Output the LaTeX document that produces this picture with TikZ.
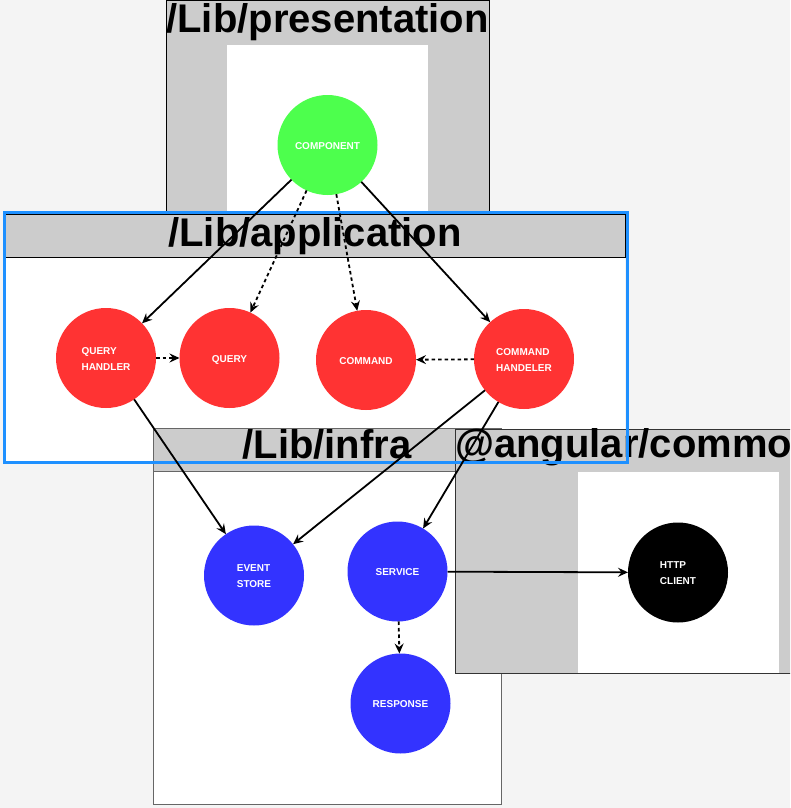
\documentclass[tikz,border=0pt]{standalone}
\usepackage{fontspec}
\setmainfont{Liberation Sans}
\usetikzlibrary{arrows.meta}
\definecolor{bg}{HTML}{F4F4F4}
\definecolor{lanegray}{HTML}{CCCCCC}
\definecolor{cgreen}{HTML}{4DFF4D}
\definecolor{cred}{HTML}{FF3333}
\definecolor{cblue}{HTML}{3333FF}
\definecolor{selblue}{HTML}{1E90FF}
\definecolor{infraline}{HTML}{666666}
\newcommand\nodelbl[1]{\raisebox{-1pt}[\height][\depth]{\begin{tabular}{@{}l@{}}#1\end{tabular}}}
\begin{document}
\begin{tikzpicture}[x=1pt,y=-1pt,
  circ/.style={circle, minimum size=100pt, inner sep=0pt, outer sep=0pt, text=white,
    font=\fontsize{10}{16}\selectfont\bfseries},
  lanetitle/.style={font=\fontsize{40}{48}\selectfont\bfseries, inner sep=0pt, anchor=base},
  conn/.style={line width=1.8pt, -{Stealth[length=10pt,width=9pt,inset=3.5pt]}},
  dconn/.style={conn, dash pattern=on 3.5pt off 3pt},
]
\clip (0,0) rectangle (790,808);
\fill[bg] (0,0) rectangle (790,808);

% presentation lane
\filldraw[fill=lanegray, draw=black, line width=1pt] (166,1) rectangle (489,216);
\fill[white] (227,45) rectangle (428,216);
\node[lanetitle] (tpres) at (327.5,33) {/Lib/presentation};

% application lane
\fill[white] (5,214) rectangle (625,462);
\filldraw[fill=lanegray, draw=black, line width=1pt] (5,214) rectangle (625,257);
\node[lanetitle] (tapp) at (315,246) {/Lib/application};

% infra lane
\filldraw[fill=white, draw=infraline, line width=1pt] (153,428) rectangle (501,804);
\filldraw[fill=lanegray, draw=infraline, line width=1pt] (153,428) rectangle (501,471);
\node[lanetitle] (tinfra) at (327,458) {/Lib/infra};

% angular lane
\filldraw[fill=lanegray, draw=black!80, line width=1pt] (455,429) rectangle (900,673);
\fill[white] (578,472) rectangle (779,673);
\node[lanetitle, anchor=base west] (tang) at (455,457) {@angular/common};

% selection frame
\draw[selblue, line width=3pt] (4,212.5) rectangle (627,462.5);

% nodes
\node[circ, fill=cgreen] (comp) at (327.5,145) {\nodelbl{COMPONENT}};
\node[circ, fill=cred] (qh) at (106,358) {\nodelbl{QUERY\\HANDLER}};
\node[circ, fill=cred] (q) at (229.5,358) {\nodelbl{QUERY}};
\node[circ, fill=cred] (cmd) at (366,360) {\nodelbl{COMMAND}};
\node[circ, fill=cred] (ch) at (524,359) {\nodelbl{COMMAND\\HANDELER}};
\node[circ, fill=cblue] (es) at (254,575.5) {\nodelbl{EVENT\\STORE}};
\node[circ, fill=cblue] (svc) at (397.5,571.5) {\nodelbl{SERVICE}};
\node[circ, fill=cblue] (resp) at (400.5,703.5) {\nodelbl{RESPONSE}};
\node[circ, fill=black] (http) at (678,572.5) {\nodelbl{HTTP\\CLIENT}};

% connectors
\draw[conn] (comp) -- (qh);
\draw[dconn] (comp) -- (q);
\draw[dconn] (comp) -- (cmd);
\draw[conn] (comp) -- (ch);
\draw[dconn] (qh) -- (q);
\draw[dconn] (ch) -- (cmd);
\draw[conn] (qh) -- (es);
\draw[conn] (ch) -- (es);
\draw[conn] (ch) -- (svc);
\draw[conn] (svc) -- (http);
\draw[dconn] (svc) -- (resp);
\end{tikzpicture}
\end{document}
